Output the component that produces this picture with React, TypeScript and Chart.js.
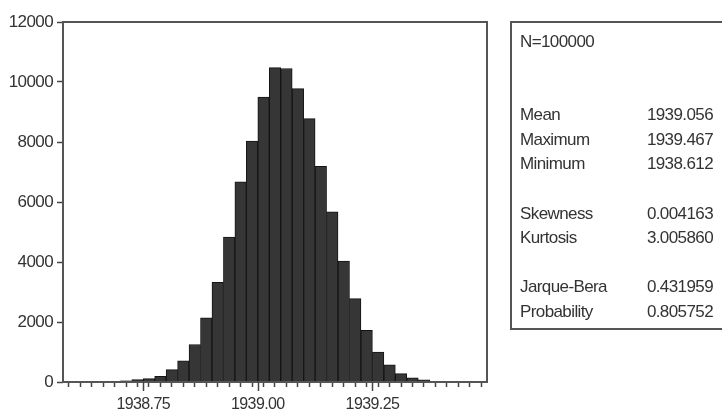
import React, { useEffect, useRef } from "react";
import { Chart, registerables } from "chart.js";

Chart.register(...registerables);

// Histogram bins (centres) and their counts
const binCenters = [
  1938.6125, 1938.6375, 1938.6625, 1938.6875, 1938.7125, 1938.7375, 1938.7625,
  1938.7875, 1938.8125, 1938.8375, 1938.8625, 1938.8875, 1938.9125, 1938.9375,
  1938.9625, 1938.9875, 1939.0125, 1939.0375, 1939.0625, 1939.0875, 1939.1125,
  1939.1375, 1939.1625, 1939.1875, 1939.2125, 1939.2375, 1939.2625, 1939.2875,
  1939.3125, 1939.3375, 1939.3625, 1939.3875, 1939.4125, 1939.4375, 1939.4625,
];
const binCounts = [
  1, 3, 8, 18, 40, 80, 110,
  190, 410, 705, 1250, 2140, 3320, 4830,
  6670, 8030, 9500, 10480, 10450, 9780, 8780,
  7190, 5670, 4030, 2780, 1720, 1000, 570,
  280, 140, 75, 25, 8, 3, 1,
];
const binWidth = 0.025;

// Axis ticks
const xLabelTicks = [1938.75, 1939.0, 1939.25];
const yTicks = [0, 2000, 4000, 6000, 8000, 10000, 12000];
const xMin = 1938.575;
const xMax = 1939.5;

// Summary statistics panel
const sampleLabel = "N=100000";
const statGroups: [string, string][][] = [
  [
    ["Mean", "1939.056"],
    ["Maximum", "1939.467"],
    ["Minimum", "1938.612"],
  ],
  [
    ["Skewness", "0.004163"],
    ["Kurtosis", "3.005860"],
  ],
  [
    ["Jarque-Bera", "0.431959"],
    ["Probability", "0.805752"],
  ],
];

const FONT = "'Liberation Sans', Arial, sans-serif";
const TEXT = "#333333";
const LINE = "#555555";
const SPACING = "-0.6px";

const framePlugin = {
  id: "frameAndStats",
  beforeDraw(chart: any) {
    // slightly condensed lettering for every label on the canvas
    (chart.ctx as any).letterSpacing = SPACING;
  },
  afterDraw(chart: any) {
    const { ctx, chartArea: a, scales } = chart;
    ctx.save();
    (ctx as any).letterSpacing = SPACING;

    // plot frame
    ctx.strokeStyle = LINE;
    ctx.lineWidth = 2;
    ctx.strokeRect(a.left, a.top, a.right - a.left, a.bottom - a.top);

    // longer ticks under the labelled values
    ctx.lineWidth = 1.5;
    ctx.strokeStyle = "#444";
    xLabelTicks.forEach((v) => {
      const px = Math.round(scales.x.getPixelForValue(v)) + 0.5;
      ctx.beginPath();
      ctx.moveTo(px, a.bottom);
      ctx.lineTo(px, a.bottom + 9);
      ctx.stroke();
    });

    // statistics panel
    const bx = 511;
    const by = a.top;
    const bb = 329;
    ctx.strokeStyle = LINE;
    ctx.lineWidth = 2;
    ctx.strokeRect(bx, by, 730 - bx, bb - by);

    ctx.fillStyle = TEXT;
    ctx.font = `17px ${FONT}`;
    ctx.textBaseline = "middle";
    const rowH = 24.55;
    const y0 = 42;
    ctx.textAlign = "left";
    ctx.fillText(sampleLabel, 520, y0);
    let row = 3;
    statGroups.forEach((group) => {
      group.forEach(([label, value]) => {
        const y = y0 + row * rowH;
        ctx.textAlign = "left";
        ctx.fillText(label, 520, y);
        ctx.textAlign = "right";
        ctx.fillText(value, 713, y);
        row += 1;
      });
      row += 1;
    });

    ctx.restore();
  },
};

export default function App() {
  const canvasRef = useRef<HTMLCanvasElement | null>(null);

  useEffect(() => {
    const canvas = canvasRef.current;
    if (!canvas) return;

    const edgeTicks = binCenters.map((c) => c - binWidth / 2);
    edgeTicks.push(binCenters[binCenters.length - 1] + binWidth / 2);

    const chart = new Chart(canvas, {
      type: "bar",
      data: {
        datasets: [
          {
            data: binCenters.map((c, i) => ({ x: c, y: binCounts[i] })),
            backgroundColor: "#363636",
            borderColor: "#141414",
            borderWidth: 1,
            barPercentage: 1,
            categoryPercentage: 1,
            grouped: false,
          },
        ],
      },
      options: {
        responsive: false,
        animation: false,
        events: [],
        layout: { padding: { top: 22, right: 235, left: 0, bottom: 0 } },
        plugins: {
          legend: { display: false },
          tooltip: { enabled: false },
        },
        scales: {
          x: {
            type: "linear",
            min: xMin,
            max: xMax,
            offset: false,
            border: { display: false },
            grid: {
              drawOnChartArea: false,
              drawTicks: true,
              tickLength: 5,
              tickColor: "#444",
              tickWidth: 1.5,
            },
            afterBuildTicks: (scale: any) => {
              scale.ticks = edgeTicks.map((v) => ({ value: v }));
            },
            ticks: {
              autoSkip: false,
              maxRotation: 0,
              padding: 8,
              color: TEXT,
              font: { family: FONT, size: 16 },
              callback: (value: any) => {
                const v = Number(value);
                return xLabelTicks.some((m) => Math.abs(m - v) < 1e-6)
                  ? v.toFixed(2)
                  : "";
              },
            },
            afterFit: (scale: any) => {
              scale.height = 31;
            },
          },
          y: {
            min: 0,
            max: 12000,
            border: { display: false },
            grid: {
              drawOnChartArea: false,
              drawTicks: true,
              tickLength: 6,
              tickColor: "#444",
              tickWidth: 1.5,
            },
            afterBuildTicks: (scale: any) => {
              scale.ticks = yTicks.map((v) => ({ value: v }));
            },
            ticks: {
              padding: 4,
              color: TEXT,
              font: { family: FONT, size: 17 },
              callback: (value: any) => String(value),
            },
            afterFit: (scale: any) => {
              scale.width = 63;
            },
          },
        },
      },
      plugins: [framePlugin],
    });

    return () => chart.destroy();
  }, []);

  return (
    <div style={{ position: "absolute", left: 0, top: 0, width: 722, height: 413, background: "#fff" }}>
      <canvas ref={canvasRef} width={722} height={413} />
    </div>
  );
}
